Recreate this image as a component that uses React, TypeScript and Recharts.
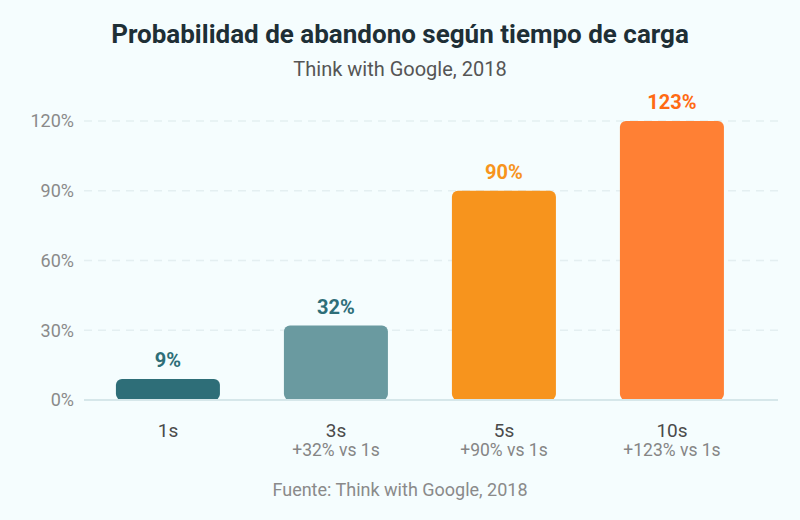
import React from "react";
import { BarChart, Bar, XAxis, YAxis, CartesianGrid, LabelList, Cell } from "recharts";

const categories = ["1s", "3s", "5s", "10s"];
const abandonPct = [9, 32, 90, 123];
const deltaLabels = ["", "+32% vs 1s", "+90% vs 1s", "+123% vs 1s"];
const yTicks = [0, 30, 60, 90, 120];

const BAR_COLORS = ["#2e6e78", "#6a9aa0", "#f7941d", "#ff8034"];
const LABEL_COLORS = ["#2e6e78", "#2e6e78", "#f7941d", "#ff6a13"];

const FONT = "Roboto, 'Noto Sans', sans-serif";
const WIDTH = 800;
const HEIGHT = 520;
const PLOT_TOP = 121;

const data = categories.map((cat, i) => ({
  cat,
  value: abandonPct[i],
  delta: deltaLabels[i],
}));

/** Bars above the axis max are held at the top of the plot, corners kept */
// eslint-disable-next-line @typescript-eslint/no-explicit-any
function ClampedBar(props: any) {
  const { x, y, width, height, index } = props;
  const bottom = y + height;
  const top = Math.max(y, PLOT_TOP);
  return (
    <rect
      x={x}
      y={top}
      width={width}
      height={Math.max(0, bottom - top)}
      rx={6}
      ry={6}
      fill={BAR_COLORS[index]}
    />
  );
}

// eslint-disable-next-line @typescript-eslint/no-explicit-any
function ValueLabel(props: any) {
  const { x, y, width, value, index } = props;
  const top = Math.max(y, PLOT_TOP);
  return (
    <text
      x={x + width / 2}
      y={top - 12}
      textAnchor="middle"
      fontFamily={FONT}
      fontWeight={700}
      fontSize={20}
      fill={LABEL_COLORS[index]}
    >
      {`${value}%`}
    </text>
  );
}

// eslint-disable-next-line @typescript-eslint/no-explicit-any
function CategoryTick(props: any) {
  const { x, y, payload, index } = props;
  const sub = deltaLabels[index ?? payload.index] ?? "";
  return (
    <g transform={`translate(${x},${y})`}>
      <text x={0} y={29} textAnchor="middle" fontFamily={FONT} fontSize={19} fill="#4a4a4a">
        {payload.value}
      </text>
      {sub && (
        <text x={0} y={48} textAnchor="middle" fontFamily={FONT} fontSize={17.5} fill="#858585">
          {sub}
        </text>
      )}
    </g>
  );
}

export default function App() {
  return (
    <div
      style={{
        position: "relative",
        width: WIDTH,
        height: HEIGHT,
        background: "#f5fdfe",
        fontFamily: FONT,
      }}
    >
      <style>{`body{margin:0}`}</style>
      <div
        style={{
          position: "absolute",
          top: 19,
          left: 0,
          width: WIDTH,
          textAlign: "center",
          fontSize: 26,
          fontWeight: 700,
          color: "#1e2f36",
        }}
      >
        Probabilidad de abandono según tiempo de carga
      </div>
      <div
        style={{
          position: "absolute",
          top: 57,
          left: 0,
          width: WIDTH,
          textAlign: "center",
          fontSize: 20,
          color: "#555555",
        }}
      >
        Think with Google, 2018
      </div>
      <BarChart
        width={WIDTH}
        height={HEIGHT}
        data={data}
        margin={{ top: PLOT_TOP, right: 22, bottom: 60, left: 0 }}
        barCategoryGap="19%"
      >
        <CartesianGrid vertical={false} stroke="#e4eff1" strokeDasharray="8 6" strokeWidth={1.5} />
        <XAxis
          dataKey="cat"
          axisLine={{ stroke: "#d6e7ea", strokeWidth: 2 }}
          tickLine={false}
          tick={<CategoryTick />}
          interval={0}
          height={60}
          padding={{ left: 0, right: 22 }}
        />
        <YAxis
          domain={[0, 120]}
          ticks={yTicks}
          allowDataOverflow
          width={84}
          axisLine={false}
          tickLine={false}
          tickMargin={4}
          tickFormatter={(v: number) => `${v}%`}
          tick={{ fontFamily: FONT, fontSize: 18, fill: "#8a8a8a" }}
        />
        <Bar dataKey="value" shape={<ClampedBar />} isAnimationActive={false}>
          {data.map((d, i) => (
            <Cell key={d.cat} fill={BAR_COLORS[i]} />
          ))}
          <LabelList dataKey="value" content={<ValueLabel />} />
        </Bar>
      </BarChart>
      <div
        style={{
          position: "absolute",
          top: 479,
          left: 0,
          width: WIDTH,
          textAlign: "center",
          fontSize: 18,
          color: "#8a8a8a",
        }}
      >
        Fuente: Think with Google, 2018
      </div>
    </div>
  );
}
